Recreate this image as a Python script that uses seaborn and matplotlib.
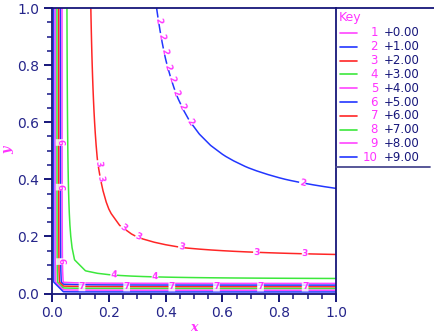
import numpy as np
import matplotlib
matplotlib.use("Agg")
import matplotlib.pyplot as plt
from matplotlib.lines import Line2D
from matplotlib.ticker import MultipleLocator, FormatStrFormatter
import seaborn as sns

# ---- data -------------------------------------------------------------
levels = [0.0, 1.0, 2.0, 3.0, 4.0, 5.0, 6.0, 7.0, 8.0, 9.0]
level_ids = ["1", "2", "3", "4", "5", "6", "7", "8", "9", "10"]
level_values = ["+0.00", "+1.00", "+2.00", "+3.00", "+4.00",
                "+5.00", "+6.00", "+7.00", "+8.00", "+9.00"]
level_colors = ["#ff44ff", "#2236ff", "#ff2626", "#3ce83c",
                "#ff44ff", "#2236ff", "#ff2626", "#3ce83c",
                "#ff44ff", "#2236ff"]
grid_x = np.linspace(0.0, 1.0, 26)
grid_y = np.linspace(0.0, 1.0, 26)
grid_x[0] = 5e-5
grid_y[0] = 5e-5
xticks = [0.0, 0.2, 0.4, 0.6, 0.8, 1.0]
yticks = [0.0, 0.2, 0.4, 0.6, 0.8, 1.0]
# contour labels: level index -> fractions of path length
label_fracs = {
    1: [0.045, 0.1, 0.155, 0.21, 0.255, 0.305, 0.36, 0.42, 0.88],
    2: [0.35, 0.385, 0.51, 0.55, 0.65, 0.82, 0.93],
    3: [0.57, 0.65],
    5: [0.244, 0.325, 0.46],
    6: [0.539, 0.62, 0.702, 0.783, 0.863, 0.944],
}

# ---- style ------------------------------------------------------------
sns.set_theme(style="ticks")
plt.rcParams["font.family"] = ["DejaVu Sans"]
NAVY = "#16167a"
MAG = "#ff33ff"

W, H = 434, 334
fig = plt.figure(figsize=(W / 100, H / 100), dpi=100)
fig.patch.set_facecolor("white")
L, R, T, B = 52, 336, 8, 293.5
ax = fig.add_axes([L / W, 1 - B / H, (R - L) / W, (B - T) / H])
ax.set_facecolor("white")

X, Y = np.meshgrid(grid_x, grid_y)
Z = np.log(1.0 / X + 1.0 / Y - 1.0)

cs = ax.contour(X, Y, Z, levels=levels, colors=level_colors, linewidths=1.1)

# label positions taken along the library's own contour paths
manual_pts = []
for li, fracs in label_fracs.items():
    segs = cs.allsegs[li]
    seg = max(segs, key=len)
    if seg[0, 1] < seg[-1, 1]:
        seg = seg[::-1]
    d = np.r_[0, np.cumsum(np.hypot(*np.diff(seg, axis=0).T))]
    for f in fracs:
        t = f * d[-1]
        px = np.interp(t, d, seg[:, 0])
        py = np.interp(t, d, seg[:, 1])
        manual_pts.append((px, py))

fmt = {lv: lid for lv, lid in zip(levels, level_ids)}
texts = ax.clabel(cs, levels=levels, manual=manual_pts,
                  inline=True, inline_spacing=0, fmt=fmt, colors=MAG, fontsize=6.5)
for t in texts:
    t.set_fontweight("bold")
    t.set_bbox(dict(facecolor="white", edgecolor="none", pad=0.1, alpha=0.8))

ax.set_xlim(0, 1)
ax.set_ylim(0, 1)
ax.set_xticks(xticks)
ax.set_yticks(yticks)
ax.xaxis.set_minor_locator(MultipleLocator(0.05))
ax.yaxis.set_minor_locator(MultipleLocator(0.05))
ax.xaxis.set_major_formatter(FormatStrFormatter("%.1f"))
ax.yaxis.set_major_formatter(FormatStrFormatter("%.1f"))
ax.tick_params(axis="both", which="major", direction="out", length=6, width=1.4,
               color=NAVY, labelcolor="#25258a", labelsize=10, pad=3,
               bottom=True, left=True, top=False, right=False)
ax.tick_params(axis="both", which="minor", direction="out", length=3.5, width=1.4,
               color="#4848a0", bottom=True, left=True, top=False, right=False)
for s in ax.spines.values():
    s.set_visible(True)
    s.set_color(NAVY)
    s.set_linewidth(1.3)

ax.set_xlabel("x", color=MAG, fontfamily="DejaVu Serif", style="italic",
              fontweight="bold", fontsize=9, labelpad=1)
ax.set_ylabel("y", color=MAG, fontfamily="DejaVu Serif", style="italic",
              fontweight="bold", fontsize=9, labelpad=2)

# ---- key --------------------------------------------------------------
def fx(px):
    return px / W

def fy(py):
    return 1 - py / H

fig.add_artist(Line2D([fx(R), 1.0], [fy(T), fy(T)], color=NAVY, lw=1.3))
fig.add_artist(Line2D([fx(R), fx(430)], [fy(167), fy(167)], color="#4a4a90", lw=1.3))
fig.text(fx(339), fy(18), "Key", color=MAG, fontsize=9, va="center", ha="left")
row0, dy = 33, 13.8
for i, (lid, val, col) in enumerate(zip(level_ids, level_values, level_colors)):
    yy = fy(row0 + i * dy)
    fig.add_artist(Line2D([fx(340), fx(357)], [yy, yy], color=col, lw=1.2))
    fig.text(fx(378), yy, lid, color=MAG, fontsize=8.5, va="center", ha="right")
    fig.text(fx(384), yy, val, color=NAVY, fontsize=8.5, va="center", ha="left")

fig.savefig("out.png", dpi=100, facecolor="white")
